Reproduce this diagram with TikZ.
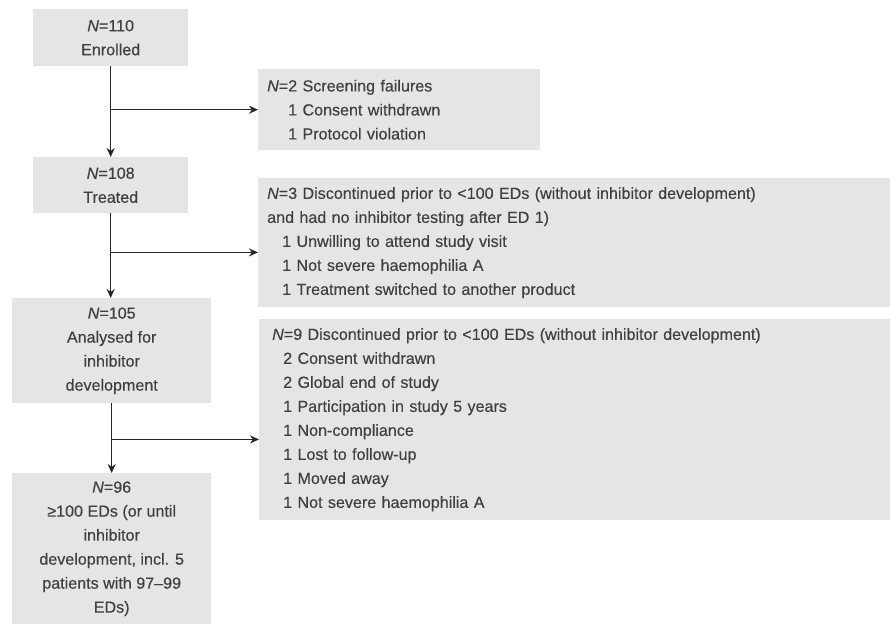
\documentclass[tikz,border=0pt]{standalone}
\usepackage{fontspec}
\setmainfont[FakeBold=0.35]{Liberation Sans}
\usetikzlibrary{arrows.meta}
\newcommand\indt[1]{\hspace*{#1pt}}

\begin{document}
\begin{tikzpicture}[x=1pt, y=-1pt,
  every node/.style={font=\fontsize{16.1}{24}\selectfont, text=black!75},
  stage/.style={fill=black!10, align=center, anchor=north west, inner sep=0pt},
  loss/.style={fill=black!10, align=left, anchor=north west, inner xsep=9pt, inner ysep=0pt},
  flow/.style={-{Stealth[length=9pt,width=8pt]}, line width=1.5pt, draw=black!85}]
\useasboundingbox (0,0) rectangle (890,625);
% main stages
\node[stage, minimum width=155pt, minimum height=57pt] (enr) at (33,9) {\textit{N}=110\\Enrolled};
\node[stage, minimum width=155pt, minimum height=56pt] (trt) at (33,157) {\textit{N}=108\\Treated};
\node[stage, minimum width=199pt, minimum height=105pt] (ana) at (12,298) {\textit{N}=105\\Analysed for\\inhibitor\\development};
\node[stage, minimum width=199pt, minimum height=151pt] (fin) at (12,473) {\textit{N}=96\\≥100 EDs (or until\\inhibitor\\development, incl. 5\\patients with 97–99\\EDs)};
% dropouts
\node[loss, text width=264pt, minimum height=81pt] (scr) at (258,69) {\textit{N}=2 Screening failures\\\indt{21}1 Consent withdrawn\\\indt{21}1 Protocol violation};
\node[loss, text width=614pt, minimum height=129pt] (dis1) at (258,178) {\textit{N}=3 Discontinued prior to <100 EDs (without inhibitor development)\\and had no inhibitor testing after ED 1)\\\indt{15}1 Unwilling to attend study visit\\\indt{15}1 Not severe haemophilia A\\\indt{15}1 Treatment switched to another product};
\node[loss, inner xsep=13pt, text width=605pt, minimum height=201pt] (dis2) at (259,319) {\textit{N}=9 Discontinued prior to <100 EDs (without inhibitor development)\\\indt{11}2 Consent withdrawn\\\indt{11}2 Global end of study\\\indt{11}1 Participation in study 5 years\\\indt{11}1 Non-compliance\\\indt{11}1 Lost to follow-up\\\indt{11}1 Moved away\\\indt{11}1 Not severe haemophilia A};
% branch points
\coordinate (s1) at (enr.south |- scr.west);
\path (trt.south) ++(0,39) coordinate (s2);
\path (ana.south) ++(0,36) coordinate (s3);
% arrows
\draw[flow] (enr) -- (trt);
\draw[flow] (trt.south) -- (trt.south |- ana.north);
\draw[flow] (ana) -- (fin);
\draw[flow] (s1) -- (scr.west);
\draw[flow] (s2) -- (s2 -| dis1.west);
\draw[flow] (s3) -- (s3 -| dis2.west);
\end{tikzpicture}
\end{document}
